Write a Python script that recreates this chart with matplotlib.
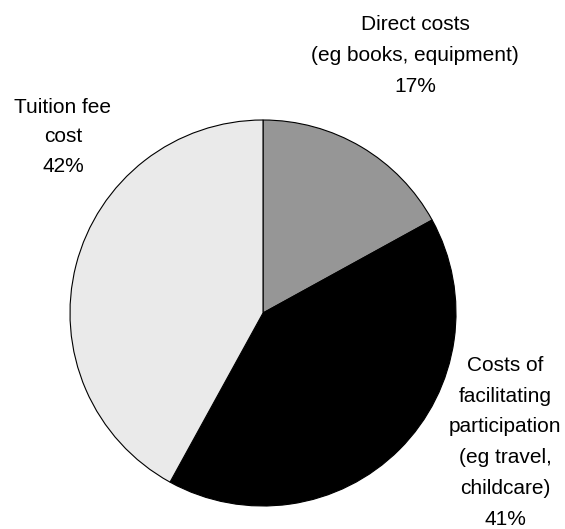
import matplotlib
matplotlib.use("Agg")
import matplotlib.pyplot as plt

# data
labels = ["Direct costs\n(eg books, equipment)\n17%",
          "Costs of\nfacilitating\nparticipation\n(eg travel,\nchildcare)\n41%",
          "Tuition fee\ncost\n42%"]
shares = [17, 41, 42]
colors = ["#969696", "#000000", "#eaeaea"]

plt.rcParams['font.family'] = ['Liberation Sans', 'DejaVu Sans']

W, H = 565, 529
fig = plt.figure(figsize=(W / 100, H / 100), dpi=100)

# pie centre ~ (263, 313) px, radius ~193 px
cx, cy, r = 263, 313, 193
ax = fig.add_axes([(cx - r) / W, (H - cy - r) / H, 2 * r / W, 2 * r / H])
ax.pie(shares, colors=colors, startangle=90, counterclock=False,
       wedgeprops=dict(edgecolor="black", linewidth=0.8))
ax.set_xlim(-1, 1)
ax.set_ylim(-1, 1)
ax.set_aspect("equal")
ax.axis("off")

# label positions in pixels (centre x, baseline of last line)
label_pos = [(415, 92), (505, 525), (63, 172)]
spacing = [1.79, 1.79, 1.71]
for txt, (x, y), ls in zip(labels, label_pos, spacing):
    fig.text(x / W, 1 - y / H, txt, ha="center", va="baseline",
             multialignment="center", fontsize=15, linespacing=ls)

fig.savefig("out.png", dpi=100)
